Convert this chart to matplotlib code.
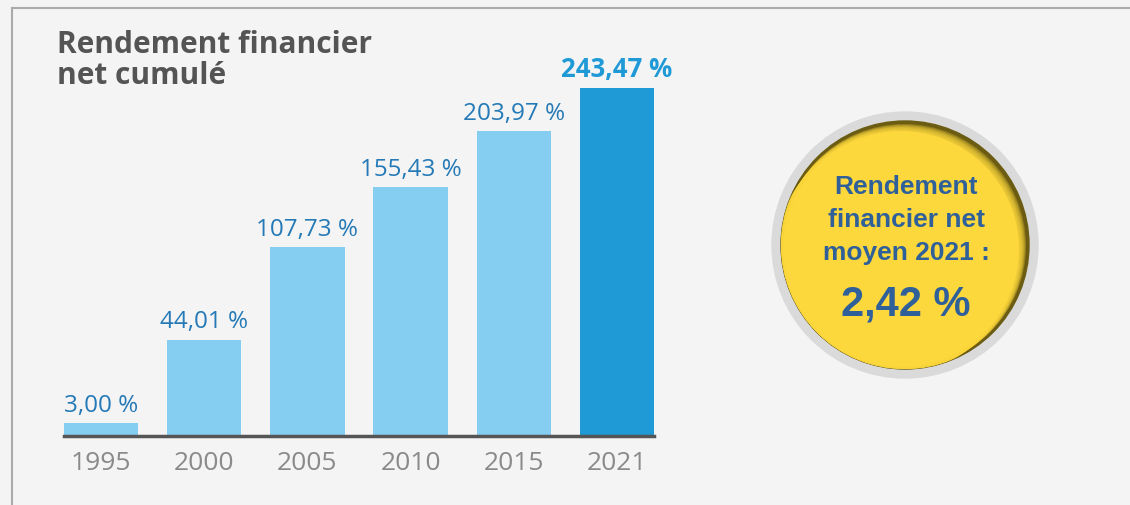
import numpy as np
import matplotlib
matplotlib.use("Agg")
import matplotlib.pyplot as plt
from matplotlib.patches import Circle

# ======================================================
# DATA
# ======================================================
years = ["1995", "2000", "2005", "2010", "2015", "2021"]
rendement = [3.00, 44.01, 107.73, 155.43, 203.97, 243.47]
labels = ["3,00 %", "44,01 %", "107,73 %", "155,43 %", "203,97 %", "243,47 %"]

title_lines = ["Rendement financier", "net cumulé"]
badge_lines = ["Rendement", "financier net", "moyen 2021 :"]
badge_value = "2,42 %"

# ======================================================
# STYLE
# ======================================================
BG = "#f4f4f4"
BAR_LIGHT = "#86cdf2"
BAR_DARK = "#1f9ad6"
LABEL_BLUE = "#2479b6"
TICK_GRAY = "#8a8a8a"
TITLE_GRAY = "#545454"
BADGE_BLUE = "#2f6099"
YELLOW = "#fdd83c"

W, H = 1130, 505
fig = plt.figure(figsize=(W / 100, H / 100), dpi=100, facecolor=BG)

# background / decoration axes in pixel coordinates
bg = fig.add_axes([0, 0, 1, 1])
bg.set_xlim(0, W)
bg.set_ylim(H, 0)
bg.axis("off")

# frame lines
bg.plot([12, W], [8, 8], color="#ababab", lw=1.5)
bg.plot([12, 12], [8, H], color="#ababab", lw=1.5)

# title
bg.text(57, 53, title_lines[0], fontsize=21.5, fontweight="bold",
        color=TITLE_GRAY, family="Open Sans", ha="left", va="baseline")
bg.text(57, 84, title_lines[1], fontsize=21.5, fontweight="bold",
        color=TITLE_GRAY, family="Open Sans", ha="left", va="baseline")

# badge circle (gray ring, yellow disc with inner shadow top-right)
cx, cy = 905, 245
bg.add_patch(Circle((cx, cy), 133, color="#dadada", zorder=1))
inner = Circle((cx, cy), 124, color="#6b5c12", zorder=2)
bg.add_patch(inner)
for i in range(14):
    off = 14 - i
    c = Circle((cx - off * 0.8, cy + off * 0.8), 122 - off * 0.2,
               color=YELLOW, alpha=0.28, zorder=3, lw=0)
    bg.add_patch(c)
    c.set_clip_path(inner)
c = Circle((cx - 4, cy + 4), 118, color=YELLOW, zorder=4, lw=0)
bg.add_patch(c)
c.set_clip_path(inner)

badge_font = ["Liberation Sans Narrow", "Liberation Sans"]
for line, y in zip(badge_lines, [187, 220, 253]):
    bg.text(906, y, line, fontsize=19, fontweight="bold", color=BADGE_BLUE,
            family=badge_font, ha="center", va="center", zorder=5)
bg.text(906, 304, badge_value, fontsize=30, fontweight="bold",
        color=BADGE_BLUE, family=badge_font, ha="center", va="center", zorder=5)

# ======================================================
# BAR CHART
# ======================================================
ax = fig.add_axes([64 / W, (H - 436) / H, 590 / W, (436 - 88) / H])
ax.patch.set_alpha(0)


def fwd(y):
    y = np.asarray(y, dtype=float)
    return np.sign(y) * np.abs(y) ** 0.75


def inv(y):
    y = np.asarray(y, dtype=float)
    return np.sign(y) * np.abs(y) ** (1 / 0.75)


ax.set_yscale("function", functions=(fwd, inv))

x = np.arange(len(years))
colors = [BAR_LIGHT] * (len(years) - 1) + [BAR_DARK]
ax.bar(x, rendement, width=0.72, color=colors, zorder=2)

for i, (v, lab) in enumerate(zip(rendement, labels)):
    last = i == len(years) - 1
    ax.annotate(lab, (i, v), xytext=(0, 8), textcoords="offset points",
                ha="center", va="baseline", fontsize=17.5 if not last else 18.5,
                fontweight="bold" if last else "normal",
                color=BAR_DARK if last else LABEL_BLUE, family="Open Sans",
                annotation_clip=False)

ax.set_xlim(-0.36, 5.36)
ax.set_ylim(0, max(rendement))
ax.set_xticks(x, years)
ax.tick_params(axis="x", length=0, pad=11, labelsize=19, labelcolor=TICK_GRAY)
for t in ax.get_xticklabels():
    t.set_family("Open Sans")
ax.set_yticks([])
ax.minorticks_off()
for s in ["top", "right", "left"]:
    ax.spines[s].set_visible(False)
ax.spines["bottom"].set_color("#555555")
ax.spines["bottom"].set_linewidth(2.5)

fig.savefig("out.png", dpi=100, facecolor=BG)
